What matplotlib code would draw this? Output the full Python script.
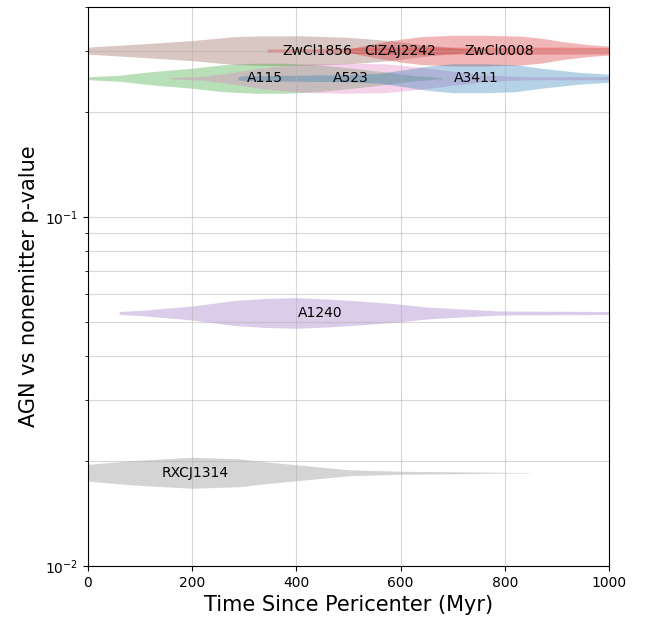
import numpy as np
import matplotlib
matplotlib.use("Agg")
import matplotlib.pyplot as plt

# p-value of each cluster (AGN vs nonemitter) and where its label sits (Myr)
clusters = ["ZwCl1856", "CIZAJ2242", "ZwCl0008", "A115", "A523", "A3411",
            "A1240", "RXCJ1314"]
pvalues = [0.30, 0.30, 0.30, 0.25, 0.25, 0.25, 0.0531, 0.0185]
label_t = [440, 600, 790, 340, 505, 745, 445, 205]
colors = ["tab:brown", "tab:red", "tab:red", "tab:green", "tab:pink",
          "tab:blue", "tab:purple", "tab:gray"]

# violin outlines: time since pericenter (Myr) and half-width (dex)
t_zwcl1856 = [-60, 0, 100, 200, 280, 340, 410, 500, 580, 640, 700, 750]
w_zwcl1856 = [0.0029, 0.010, 0.019, 0.0287, 0.0400, 0.0425, 0.0425, 0.0380,
              0.0287, 0.0172, 0.0086, 0.0014]

t_cizaj2242 = [344, 400, 450, 500, 560, 700, 900, 1050]
w_cizaj2242 = [0.0043, 0.0050, 0.0057, 0.0080, 0.010, 0.010, 0.010, 0.0086]

t_zwcl0008 = [493, 520, 560, 600, 640, 700, 760, 830, 870, 910, 960, 1000, 1050]
w_zwcl0008 = [0.0014, 0.0115, 0.0229, 0.0330, 0.0401, 0.0440, 0.0440, 0.0415,
              0.0358, 0.0258, 0.0172, 0.0129, 0.010]

t_a115 = [0, 60, 120, 200, 260, 320, 380, 440, 500, 560, 620, 680]
w_a115 = [0.0043, 0.0086, 0.0186, 0.0287, 0.0387, 0.0430, 0.0430, 0.0387,
          0.0300, 0.0200, 0.0086, 0.0014]

t_a523 = [157, 220, 280, 330, 380, 430, 500, 570, 640, 700, 770, 850, 1000, 1050]
w_a523 = [0.0014, 0.0057, 0.0172, 0.0287, 0.0372, 0.0415, 0.0430, 0.0415,
          0.0315, 0.0200, 0.0086, 0.0043, 0.0043, 0.0043]

t_a3411 = [288, 300, 400, 500, 560, 600, 650, 700, 760, 820, 870, 940, 1000, 1050]
w_a3411 = [0.0043, 0.0072, 0.0086, 0.010, 0.0143, 0.0229, 0.0344, 0.0415,
           0.0415, 0.0387, 0.0287, 0.0172, 0.0115, 0.0086]

t_a1240 = [60, 100, 200, 280, 340, 400, 460, 520, 590, 650, 700, 790, 1000, 1050]
w_a1240 = [0.0043, 0.0072, 0.020, 0.0358, 0.0415, 0.0438, 0.0401, 0.0344,
           0.0266, 0.0172, 0.0129, 0.0057, 0.0043, 0.0043]

t_rxcj1314 = [-100, 0, 80, 200, 290, 340, 410, 500, 600, 700, 790, 850]
w_rxcj1314 = [0.0115, 0.0238, 0.0344, 0.0444, 0.0401, 0.0315, 0.0215, 0.0086,
              0.0043, 0.0029, 0.0014, 0.0005]

outlines = [
    (t_zwcl1856, w_zwcl1856), (t_cizaj2242, w_cizaj2242),
    (t_zwcl0008, w_zwcl0008), (t_a115, w_a115), (t_a523, w_a523),
    (t_a3411, w_a3411), (t_a1240, w_a1240), (t_rxcj1314, w_rxcj1314),
]

fig, ax = plt.subplots(figsize=(6.51, 6.21), dpi=100)
fig.subplots_adjust(left=0.135, right=0.9355, top=0.9887, bottom=0.0886)

for name, p, tl, col, (tt, ww) in zip(clusters, pvalues, label_t, colors, outlines):
    tt = np.asarray(tt, dtype=float)
    ww = np.asarray(ww, dtype=float)
    # horizontal violin: symmetric in log space around the p-value
    ax.fill_between(tt, p * 10 ** (-ww), p * 10 ** ww, color=col,
                    alpha=0.33, linewidth=0)
    ax.text(tl, p, name, ha="center", va="center", fontsize=10)

ax.set_yscale("log")
ax.set_xlim(0, 1000)
ax.set_ylim(0.01, 0.4)
ax.set_xticks([0, 200, 400, 600, 800, 1000])
ax.grid(True, which="both", color="#b0b0b0", alpha=0.5, linewidth=0.8)
ax.set_xlabel("Time Since Pericenter (Myr)", fontsize=15)
ax.set_ylabel("AGN vs nonemitter p-value", fontsize=15)

fig.savefig("out.png", dpi=100)
